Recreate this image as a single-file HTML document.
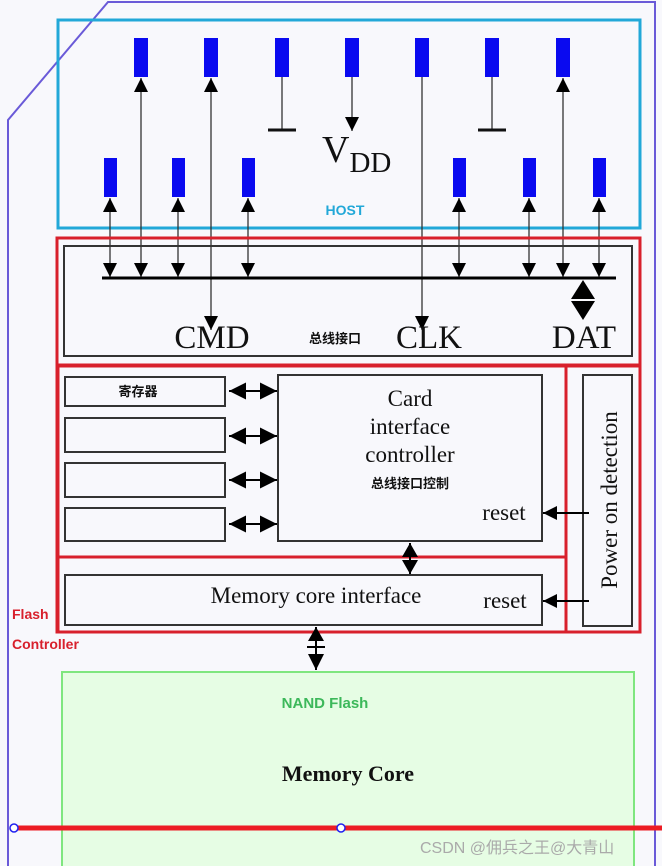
<!DOCTYPE html>
<html><head><meta charset="utf-8"><style>
html,body{margin:0;padding:0;background:#f8f8fc;}
svg{display:block;}
.s{font-family:"Liberation Serif",serif;fill:#111;}
.c{font-family:"Liberation Sans","Noto Sans CJK SC",sans-serif;font-weight:bold;}
</style></head><body>
<svg width="662" height="866" viewBox="0 0 662 866" xmlns="http://www.w3.org/2000/svg">
<defs>
<marker id="a" viewBox="0 0 10 10" refX="10" refY="5" markerWidth="14" markerHeight="14" markerUnits="userSpaceOnUse" orient="auto-start-reverse"><path d="M0,0 L10,5 L0,10 z" fill="#000"/></marker>
<marker id="b" viewBox="0 0 10 10" refX="10" refY="5" markerWidth="17" markerHeight="17" markerUnits="userSpaceOnUse" orient="auto-start-reverse"><path d="M0,0 L10,5 L0,10 z" fill="#000"/></marker>
</defs>
<rect width="662" height="866" fill="#f8f8fc"/>
<polyline points="8,866 8,120 108,2 655,2 655,866" fill="none" stroke="#6a5ad8" stroke-width="2"/>
<rect x="58" y="20" width="582" height="208" fill="none" stroke="#22a8d8" stroke-width="3"/>
<text x="345" y="215" class="c" font-size="14" fill="#22a8d8" text-anchor="middle">HOST</text>
<g fill="#0a0af0">
<rect x="134" y="38" width="14" height="39"/><rect x="204" y="38" width="14" height="39"/><rect x="275" y="38" width="14" height="39"/><rect x="345" y="38" width="14" height="39"/><rect x="415" y="38" width="14" height="39"/><rect x="485" y="38" width="14" height="39"/><rect x="556" y="38" width="14" height="39"/>
<rect x="104" y="158" width="13" height="39"/><rect x="172" y="158" width="13" height="39"/><rect x="242" y="158" width="13" height="39"/><rect x="453" y="158" width="13" height="39"/><rect x="523" y="158" width="13" height="39"/><rect x="593" y="158" width="13" height="39"/>
</g>
<g stroke="#333" stroke-width="1.3" fill="none">
<line x1="141" y1="78" x2="141" y2="277" marker-start="url(#a)" marker-end="url(#a)"/>
<line x1="211" y1="78" x2="211" y2="330" marker-start="url(#a)" marker-end="url(#a)"/>
<line x1="563" y1="78" x2="563" y2="277" marker-start="url(#a)" marker-end="url(#a)"/>
<line x1="282" y1="77" x2="282" y2="130"/>
<line x1="492" y1="77" x2="492" y2="130"/>
<line x1="352" y1="77" x2="352" y2="131" marker-end="url(#a)"/>
<line x1="422" y1="77" x2="422" y2="330" marker-end="url(#a)"/>
<line x1="110" y1="198" x2="110" y2="277" marker-start="url(#a)" marker-end="url(#a)"/>
<line x1="178" y1="198" x2="178" y2="277" marker-start="url(#a)" marker-end="url(#a)"/>
<line x1="248" y1="198" x2="248" y2="277" marker-start="url(#a)" marker-end="url(#a)"/>
<line x1="459" y1="198" x2="459" y2="277" marker-start="url(#a)" marker-end="url(#a)"/>
<line x1="529" y1="198" x2="529" y2="277" marker-start="url(#a)" marker-end="url(#a)"/>
<line x1="599" y1="198" x2="599" y2="277" marker-start="url(#a)" marker-end="url(#a)"/>
</g>
<g stroke="#111" stroke-width="3"><line x1="268" y1="130" x2="296" y2="130"/><line x1="478" y1="130" x2="506" y2="130"/></g>
<text x="322" y="162" class="s" font-size="38">V<tspan font-size="29" dy="10">DD</tspan></text>
<rect x="57" y="238" width="583" height="394" fill="none" stroke="#d8202c" stroke-width="3"/>
<rect x="64" y="246" width="568" height="110" fill="none" stroke="#333" stroke-width="2"/>
<line x1="102" y1="278" x2="616" y2="278" stroke="#000" stroke-width="3"/>
<path d="M583,280 L595,299 L571,299 z M583,320 L595,301 L571,301 z" fill="#000"/>
<text x="212" y="348" class="s" font-size="33" text-anchor="middle">CMD</text>
<text x="429" y="348" class="s" font-size="33" text-anchor="middle">CLK</text>
<text x="584" y="348" class="s" font-size="33" text-anchor="middle">DAT</text>
<text x="335" y="343" class="c" font-size="13" fill="#111" text-anchor="middle">总线接口</text>
<line x1="57" y1="365" x2="640" y2="365" stroke="#d8202c" stroke-width="3"/>
<rect x="58" y="366" width="508" height="191" fill="none" stroke="#d8202c" stroke-width="3"/>
<rect x="566" y="366" width="74" height="266" fill="none" stroke="#d8202c" stroke-width="3"/>
<rect x="58" y="557" width="508" height="75" fill="none" stroke="#d8202c" stroke-width="3"/>
<rect x="583" y="375" width="49" height="251" fill="none" stroke="#333" stroke-width="2"/>
<text transform="translate(617,500) rotate(-90)" class="s" font-size="23" text-anchor="middle">Power on detection</text>
<g fill="none" stroke="#333" stroke-width="2">
<rect x="65" y="377" width="160" height="29"/><rect x="65" y="418" width="160" height="34"/><rect x="65" y="463" width="160" height="34"/><rect x="65" y="508" width="160" height="33"/>
<rect x="278" y="375" width="264" height="166"/>
<rect x="65" y="575" width="477" height="50"/>
</g>
<text x="138" y="396" class="c" font-size="13" fill="#111" text-anchor="middle">寄存器</text>
<g stroke="#000" stroke-width="2">
<line x1="229" y1="391" x2="277" y2="391" marker-start="url(#b)" marker-end="url(#b)"/>
<line x1="229" y1="436" x2="277" y2="436" marker-start="url(#b)" marker-end="url(#b)"/>
<line x1="229" y1="480" x2="277" y2="480" marker-start="url(#b)" marker-end="url(#b)"/>
<line x1="229" y1="524" x2="277" y2="524" marker-start="url(#b)" marker-end="url(#b)"/>
<line x1="589" y1="513" x2="543" y2="513" marker-end="url(#a)"/>
<line x1="589" y1="601" x2="543" y2="601" marker-end="url(#a)"/>
</g>
<text x="410" y="406" class="s" font-size="23" text-anchor="middle">Card</text>
<text x="410" y="434" class="s" font-size="23" text-anchor="middle">interface</text>
<text x="410" y="462" class="s" font-size="23" text-anchor="middle">controller</text>
<text x="410" y="488" class="c" font-size="13" fill="#111" text-anchor="middle">总线接口控制</text>
<text x="504" y="520" class="s" font-size="23" text-anchor="middle">reset</text>
<text x="505" y="608" class="s" font-size="23" text-anchor="middle">reset</text>
<text x="316" y="603" class="s" font-size="23" text-anchor="middle">Memory core interface</text>
<path d="M410,543 L418,557 L402,557 z M410,574 L418,560 L402,560 z" fill="#000"/>
<line x1="410" y1="543" x2="410" y2="574" stroke="#000" stroke-width="2"/>
<text x="12" y="619" class="c" font-size="14" fill="#d8202c">Flash</text>
<text x="12" y="649" class="c" font-size="14" fill="#d8202c">Controller</text>
<path d="M316,627 L324,641 L308,641 z M316,670 L324,654 L308,654 z" fill="#000"/>
<line x1="316" y1="627" x2="316" y2="670" stroke="#000" stroke-width="2"/>
<line x1="307" y1="647" x2="325" y2="647" stroke="#000" stroke-width="2"/>
<rect x="62" y="672" width="572" height="200" fill="#e6fde4" stroke="#7fe67f" stroke-width="2"/>
<text x="325" y="708" class="c" font-size="15" fill="#3cb85a" text-anchor="middle">NAND Flash</text>
<text x="348" y="781" font-family="Liberation Serif,serif" font-weight="bold" font-size="22" fill="#111" text-anchor="middle">Memory Core</text>
<line x1="14" y1="828" x2="662" y2="828" stroke="#ec1c24" stroke-width="5"/>
<circle cx="14" cy="828" r="4" fill="#fff" stroke="#2020f0" stroke-width="1.5"/>
<circle cx="341" cy="828" r="4" fill="#fff" stroke="#2020f0" stroke-width="1.5"/>
<text x="420" y="853" font-family="Liberation Sans,'Noto Sans CJK SC',sans-serif" font-size="16" fill="#aaa">CSDN @佣兵之王@大青山</text>
</svg>
</body></html>
